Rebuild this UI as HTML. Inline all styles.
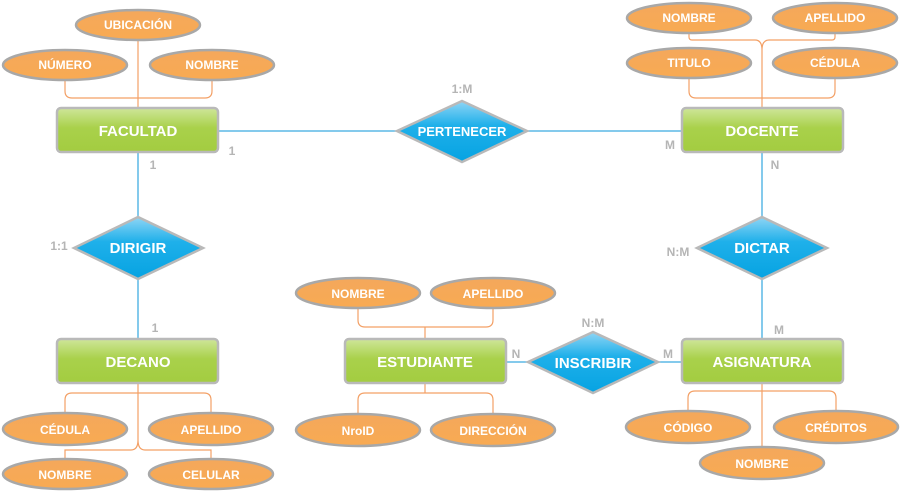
<!DOCTYPE html>
<html><head><meta charset="utf-8"><style>
html,body{margin:0;padding:0;background:#fff;width:900px;height:491px;overflow:hidden}
text{font-family:"Liberation Sans",sans-serif;font-weight:bold}
</style></head><body>
<svg width="900" height="491" viewBox="0 0 900 491" xmlns="http://www.w3.org/2000/svg">
<defs>
<linearGradient id="g" x1="0" y1="0" x2="0" y2="1"><stop offset="0" stop-color="#cfe69a"/><stop offset="0.45" stop-color="#a9d14b"/><stop offset="1" stop-color="#a3cc40"/></linearGradient>
<linearGradient id="o" x1="0" y1="0" x2="0" y2="1"><stop offset="0" stop-color="#f4a85c"/><stop offset="1" stop-color="#f8aa52"/></linearGradient>
<linearGradient id="b" x1="0" y1="0" x2="0" y2="1"><stop offset="0" stop-color="#8fd5f5"/><stop offset="0.4" stop-color="#1fb0ea"/><stop offset="1" stop-color="#06a3e2"/></linearGradient>
</defs>
<g fill="none" stroke="#5bb8e6" stroke-width="1.5">
<line x1="218" y1="131" x2="682" y2="131"/>
<line x1="138" y1="152" x2="138" y2="339"/>
<line x1="762" y1="152" x2="762" y2="339"/>
<line x1="506" y1="362" x2="682" y2="362"/>
</g>
<g fill="none" stroke="#f3a066" stroke-width="1.2">
<path d="M138 40V108 M65 80V91q0 7 7 7H205q7 0 7-7V80"/>
<path d="M689 33v4q0 3 3 3H755q7 0 7 10V108 M835 33v4q0 3-3 3H769q-7 0-7 10"/>
<path d="M689 79v12q0 7 7 7H828q7 0 7-7V79"/>
<path d="M138 383V440q0 10-7 10H65v8 M138 440q0 10 7 10H211v8"/>
<path d="M65 413v-13q0-7 7-7H204q7 0 7 7v13"/>
<path d="M425 339v-12 M358 307v13q0 7 7 7H486q7 0 7-7V307"/>
<path d="M425 383v10 M358 414v-14q0-7 7-7H486q7 0 7 7v14"/>
<path d="M762 383V447 M688 411v-13q0-7 7-7H829q7 0 7 7v13"/>
</g>
<g stroke="#b9b9b9" stroke-width="2.5">
<rect x="57" y="108" width="161" height="44" rx="4" fill="url(#g)"/>
<rect x="682" y="108" width="161" height="44" rx="4" fill="url(#g)"/>
<rect x="57" y="339" width="161" height="44" rx="4" fill="url(#g)"/>
<rect x="345" y="339" width="161" height="44" rx="4" fill="url(#g)"/>
<rect x="682" y="339" width="161" height="44" rx="4" fill="url(#g)"/>
</g>
<g stroke="#b9b9b9" stroke-width="2.5" fill="url(#b)">
<polygon points="397,131 462,101 527,131 462,162"/>
<polygon points="74,248 138,217 203,248 138,279"/>
<polygon points="697,248 762,217 827,248 762,279"/>
<polygon points="528,362 593,332 658,362 593,393"/>
</g>
<g stroke="#a8a8a8" stroke-width="2.5" fill="url(#o)">
<ellipse cx="138" cy="25" rx="62" ry="15"/>
<ellipse cx="65" cy="65" rx="62" ry="15"/>
<ellipse cx="212" cy="65" rx="62" ry="15"/>
<ellipse cx="689" cy="18" rx="62" ry="15"/>
<ellipse cx="835" cy="18" rx="62" ry="15"/>
<ellipse cx="689" cy="63" rx="62" ry="15"/>
<ellipse cx="835" cy="63" rx="62" ry="15"/>
<ellipse cx="65" cy="429" rx="62" ry="16"/>
<ellipse cx="211" cy="429" rx="62" ry="16"/>
<ellipse cx="65" cy="474" rx="62" ry="15"/>
<ellipse cx="211" cy="474" rx="62" ry="15"/>
<ellipse cx="358" cy="293" rx="62" ry="15"/>
<ellipse cx="493" cy="293" rx="62" ry="15"/>
<ellipse cx="358" cy="430" rx="62" ry="16"/>
<ellipse cx="493" cy="430" rx="62" ry="16"/>
<ellipse cx="688" cy="427" rx="62" ry="16"/>
<ellipse cx="836" cy="427" rx="62" ry="16"/>
<ellipse cx="762" cy="463" rx="62" ry="16"/>
</g>
<g fill="#fff" font-size="12" text-anchor="middle">
<text x="138" y="29">UBICACIÓN</text>
<text x="65" y="69">NÚMERO</text>
<text x="212" y="69">NOMBRE</text>
<text x="689" y="22">NOMBRE</text>
<text x="835" y="22">APELLIDO</text>
<text x="689" y="67">TITULO</text>
<text x="835" y="67">CÉDULA</text>
<text x="65" y="434">CÉDULA</text>
<text x="211" y="434">APELLIDO</text>
<text x="65" y="479">NOMBRE</text>
<text x="211" y="479">CELULAR</text>
<text x="358" y="298">NOMBRE</text>
<text x="493" y="298">APELLIDO</text>
<text x="358" y="435">NroID</text>
<text x="493" y="435">DIRECCIÓN</text>
<text x="688" y="432">CÓDIGO</text>
<text x="836" y="432">CRÉDITOS</text>
<text x="762" y="468">NOMBRE</text>
</g>
<g fill="#fff" font-size="15" text-anchor="middle">
<text x="138" y="136">FACULTAD</text>
<text x="762" y="136">DOCENTE</text>
<text x="138" y="367">DECANO</text>
<text x="425" y="367">ESTUDIANTE</text>
<text x="762" y="367">ASIGNATURA</text>
<text x="462" y="136" font-size="13">PERTENECER</text>
<text x="138" y="253">DIRIGIR</text>
<text x="762" y="253">DICTAR</text>
<text x="593" y="368">INSCRIBIR</text>
</g>
<g fill="#b5b5b5" font-size="12" text-anchor="middle">
<text x="462" y="93">1:M</text>
<text x="232" y="155">1</text>
<text x="670" y="149">M</text>
<text x="775" y="169">N</text>
<text x="153" y="169">1</text>
<text x="59" y="250">1:1</text>
<text x="155" y="332">1</text>
<text x="678" y="256">N:M</text>
<text x="779" y="334">M</text>
<text x="593" y="327">N:M</text>
<text x="516" y="358">N</text>
<text x="668" y="358">M</text>
</g>
</svg>
</body></html>
